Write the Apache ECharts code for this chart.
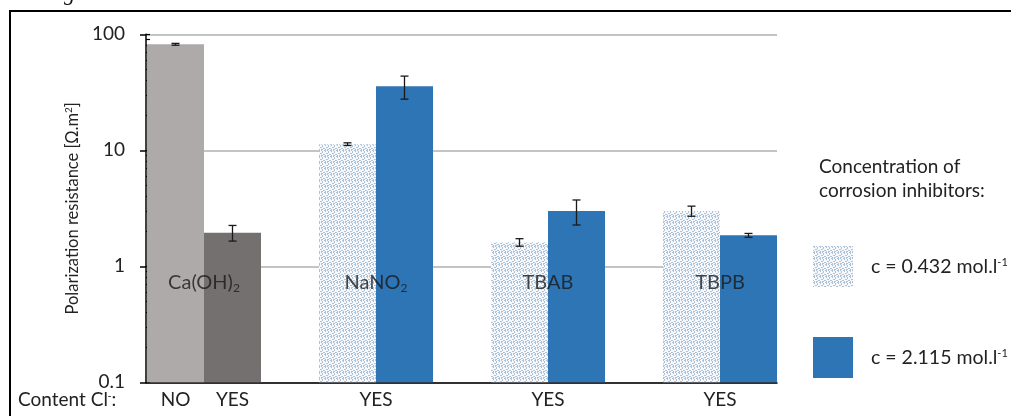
<!DOCTYPE html>
<html><head><meta charset="utf-8">
<script src="https://cdn.jsdelivr.net/npm/echarts@6/dist/echarts.min.js"></script>
<style>html,body{margin:0;padding:0;background:#fff}#c{width:1011px;height:416px}</style>
</head><body><div id="c"></div>
<script>
// ---- data ----
const categories = ['Ca(OH)2', 'NaNO2', 'TBAB', 'TBPB'];
const groupLabels = ['Ca(OH){sub|2}', 'NaNO{sub|2}', 'TBAB', 'TBPB'];
const chlorideLabels = [['NO', 'YES'], ['YES'], ['YES'], ['YES']];
const lowConc = [82, 11.3, 1.61, 3.0];      // c = 0.432 mol/l (first: Ca(OH)2 without Cl-)
const lowErr = [1.5, 0.3, 0.12, 0.3];
const highConc = [1.95, 35.6, 3.0, 1.85];   // c = 2.115 mol/l (first: Ca(OH)2 with Cl-)
const highErr = [0.3, 8, 0.73, 0.07];
const yTicks = [0.1, 1, 10, 100];
const seriesNames = ['c = 0.432 mol.l{sup|-1}', 'c = 2.115 mol.l{sup|-1}'];

const FONT = 'Lato';
const BAR_W = 57;
const Y_MIN = 0.1, Y_MAX = 100;

// dotted pattern (small speckles)
const pc = document.createElement('canvas');
pc.width = 6; pc.height = 6;
const px = pc.getContext('2d');
px.fillStyle = '#f6f8fb'; px.fillRect(0, 0, 6, 6);
px.fillStyle = '#aec2d7';
[[0,0],[1,0],[1,1],[3,0],[4,1],[4,2],[2,3],[3,3],[0,4],[5,4],[1,5],[3,5],[4,5]].forEach(p => px.fillRect(p[0], p[1], 1, 1));
const dotted = { image: pc, repeat: 'repeat' };
const blue = '#2e75b6';

const chart = echarts.init(document.getElementById('c'), null, { renderer: 'canvas' });

const errData = [];
lowConc.forEach((v, i) => errData.push([i, v, lowErr[i], 0]));
highConc.forEach((v, i) => errData.push([i, v, highErr[i], 1]));

function barRender(side) {
  return function (params, api) {
    const cat = api.value(0), v = api.value(1);
    const base = api.coord([cat, Y_MIN]);
    const top = api.coord([cat, v]);
    const x = base[0] + (side === 0 ? -BAR_W : 0);
    return { type: 'rect', shape: { x: x, y: top[1], width: BAR_W, height: base[1] - top[1] }, style: api.style() };
  };
}

const option = {
  animation: false,
  textStyle: { fontFamily: FONT },
  title: {
    text: 'Concentration of\ncorrosion inhibitors:',
    left: 814, top: 150,
    textStyle: { fontFamily: FONT, fontSize: 19, fontWeight: 'normal', color: '#222', lineHeight: 24 }
  },
  legend: {
    orient: 'vertical', left: 808, top: 241, icon: 'rect',
    itemWidth: 40, itemHeight: 41, itemGap: 50,
    data: ['low', 'high'],
    formatter: function (name) { return name === 'low' ? seriesNames[0] : seriesNames[1]; },
    textStyle: {
      fontFamily: FONT, fontSize: 19.5, color: '#222', padding: [0, 0, 0, 13],
      rich: { sup: { fontSize: 11, verticalAlign: 'top', padding: [0, 0, 9, 0], color: '#222' } }
    },
    itemStyle: { borderWidth: 0 }
  },
  graphic: [
    { type: 'text', left: -2, top: -17, style: { text: 'and 10 g.l⁻¹ C.', font: 'italic 22px "Liberation Serif"', fill: '#111' } },
    { type: 'rect', shape: { x: 9, y: 10, width: 2, height: 410 }, style: { fill: '#000' } },
    { type: 'rect', shape: { x: 9, y: 10, width: 1010, height: 2 }, style: { fill: '#000' } },
    { type: 'text', left: 18, top: 390, style: { text: 'Content Cl{sup|-}:', font: '19px ' + FONT, fill: '#222',
        rich: { sup: { fontSize: 11, verticalAlign: 'top', padding: [0, 0, 9, 0] } } } }
  ],
  grid: [
    { left: 146, width: 631, top: 34.3, height: 348 },
    { left: 118, width: 688, top: 34.3, height: 348 }
  ],
  xAxis: [
    { type: 'category', gridIndex: 0, data: categories, axisLine: { lineStyle: { color: '#000', width: 1.5 } },
      axisTick: { show: false }, axisLabel: { show: false }, splitLine: { show: false } },
    { type: 'category', gridIndex: 1, data: categories, axisLine: { show: false }, axisTick: { show: false },
      splitLine: { show: false },
      axisLabel: {
        margin: 8, fontFamily: FONT, fontSize: 19, color: '#222',
        formatter: function (v, i) {
          const l = chlorideLabels[i];
          return l.length === 2 ? '{a|' + l[0] + '}{a|' + l[1] + '}' : l[0];
        },
        rich: { a: { width: BAR_W, align: 'center', fontSize: 19, fontFamily: FONT, color: '#222' } }
      } }
  ],
  yAxis: [
    { type: 'log', logBase: 10, gridIndex: 0, min: Y_MIN, max: Y_MAX,
      name: 'Polarization resistance [Ω.m{sup|2}]', nameLocation: 'middle', nameGap: 50,
      nameTextStyle: { fontFamily: FONT, fontSize: 16.5, color: '#222',
        rich: { sup: { fontSize: 10, verticalAlign: 'top', padding: [0, 0, 8, 0] } } },
      axisLine: { show: true, lineStyle: { color: '#000', width: 1.5 } },
      axisTick: { show: true, inside: false, length: 6, lineStyle: { color: '#000', width: 1.5 } },
      axisLabel: { margin: 21, fontFamily: FONT, fontSize: 19, color: '#222',
        formatter: function (v) { const t = yTicks.find(x => Math.abs(x - v) / x < 1e-6); return t === undefined ? '' : String(t); } },
      splitLine: { show: true, lineStyle: { color: '#b0b0b0', width: 1.5 } } },
    { type: 'log', logBase: 10, gridIndex: 0, min: Y_MIN, max: Y_MAX, position: 'left',
      axisLine: { show: false }, axisLabel: { show: false }, splitLine: { show: false },
      axisTick: { show: true, inside: true, length: 4, lineStyle: { color: '#000', width: 1.2 } },
      minorTick: { show: true, splitNumber: 9, length: 4, lineStyle: { color: '#000', width: 1.2 } } },
    { type: 'log', logBase: 10, gridIndex: 1, min: Y_MIN, max: Y_MAX, show: false }
  ],
  series: [
    { name: 'low', type: 'custom', xAxisIndex: 1, yAxisIndex: 2, z: 2, encode: { x: 0, y: 1 },
      itemStyle: { color: dotted },
      renderItem: barRender(0),
      data: lowConc.map((v, i) => i === 0 ? { value: [i, v], itemStyle: { color: '#aeaaaa' } } : { value: [i, v] }) },
    { name: 'high', type: 'custom', xAxisIndex: 1, yAxisIndex: 2, z: 2, encode: { x: 0, y: 1 },
      itemStyle: { color: blue },
      renderItem: barRender(1),
      data: highConc.map((v, i) => i === 0 ? { value: [i, v], itemStyle: { color: '#757070' } } : { value: [i, v] }) },
    { type: 'scatter', xAxisIndex: 1, yAxisIndex: 2, symbolSize: 0, silent: true, z: 5,
      data: categories.map((c, i) => [i, 0.72]),
      label: { show: true, position: 'inside', fontFamily: FONT, fontSize: 20, color: '#1a1a1a',
        formatter: function (p) { return groupLabels[p.dataIndex]; },
        rich: { sub: { fontSize: 12, verticalAlign: 'bottom', padding: [11, 0, 0, 0], color: '#1a1a1a' } } } },
    { type: 'custom', xAxisIndex: 1, yAxisIndex: 2, z: 6, silent: true,
      data: errData,
      renderItem: function (params, api) {
        const cat = api.value(0), v = api.value(1), e = api.value(2), s = api.value(3);
        const c = api.coord([cat, v]);
        const hi = api.coord([cat, v + e]);
        const lo = api.coord([cat, v - e]);
        const x = c[0] + (s === 0 ? -1 : 1) * BAR_W / 2;
        const st = { stroke: '#1a1a1a', lineWidth: 1.3 };
        return { type: 'group', children: [
          { type: 'line', shape: { x1: x, y1: hi[1], x2: x, y2: lo[1] }, style: st },
          { type: 'line', shape: { x1: x - 4, y1: hi[1], x2: x + 4, y2: hi[1] }, style: st },
          { type: 'line', shape: { x1: x - 4, y1: lo[1], x2: x + 4, y2: lo[1] }, style: st }
        ] };
      } }
  ]
};
chart.setOption(option);
</script></body></html>
